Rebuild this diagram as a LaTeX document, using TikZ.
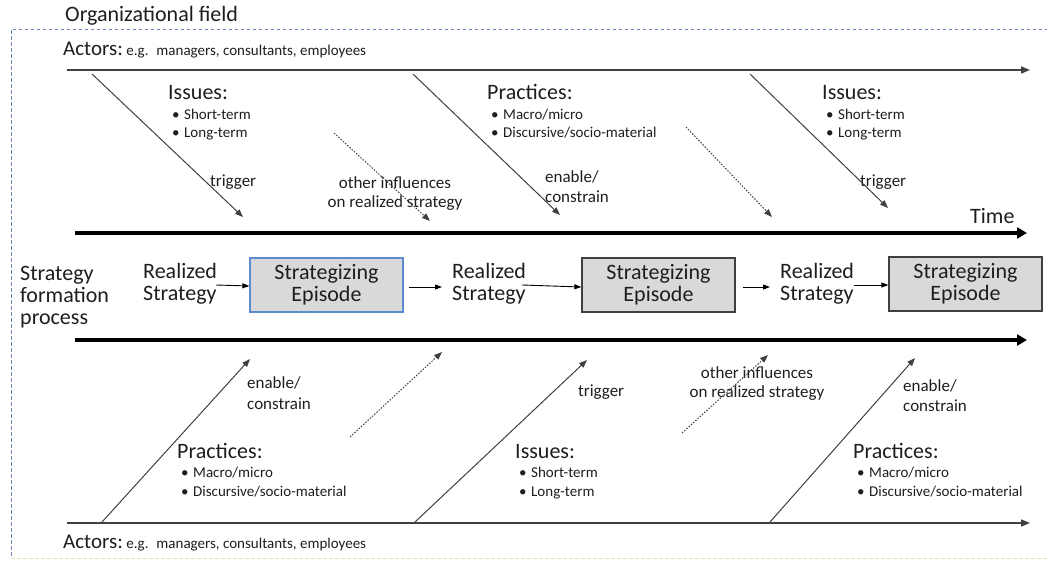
\documentclass[tikz,border=0pt]{standalone}
\usepackage{fontspec}
\setmainfont{Carlito}
\usetikzlibrary{arrows.meta}
\newcommand\szA{\fontsize{22}{22}\selectfont}
\newcommand\szB{\fontsize{17}{20}\selectfont}
\newcommand\szC{\fontsize{15}{18}\selectfont}
\newcommand\szD{\fontsize{21}{21}\selectfont}
\definecolor{frameblue}{RGB}{110,135,190}
\definecolor{frameyel}{RGB}{222,228,180}
\definecolor{linegray}{RGB}{64,64,64}
\definecolor{boxfill}{RGB}{217,217,217}
\definecolor{boxblue}{RGB}{91,140,210}
\definecolor{boxgray}{RGB}{64,64,64}
\definecolor{txt}{RGB}{30,30,30}
\begin{document}
\begin{tikzpicture}[x=1pt,y=-1pt,
  lbl/.style={inner sep=0pt, anchor=base west, text=txt},
  clbl/.style={inner sep=0pt, anchor=base, text=txt},
  blk/.style={inner sep=0pt, anchor=west, align=left, text=txt, font=\szA},
  episode/.style={draw=boxgray, line width=1.3pt, fill=boxfill, minimum width=153pt,
    minimum height=54pt, inner sep=0pt, align=center, font=\szA, text=txt},
  actorline/.style={draw=linegray, line width=1.6pt, -{Triangle[length=9pt,width=7pt]}},
  timeline/.style={draw=black, line width=4pt, -{Triangle[length=10pt,width=11pt]}},
  infl/.style={draw=linegray, line width=1pt, -{Triangle[length=8pt,width=6pt]}},
  otherinfl/.style={draw=linegray, line width=1pt, dash pattern=on 1.5pt off 1.5pt, -{Triangle[length=8pt,width=6pt]}},
  flow/.style={draw=black, line width=0.9pt, -{Triangle[length=7pt,width=5pt]}},
  framestyle/.style={draw=frameblue, line width=1pt, dash pattern=on 3.5pt off 2.5pt}
]
\useasboundingbox (0,0) rectangle (1047,560);

% organizational field frame
\draw[framestyle] (1060,29) -- (11,29) -- (11,558);
\draw[framestyle, draw=frameyel] (11,558) -- (1060,558);
\node[lbl, font=\szA] (org) at (65,21) {Organizational field};

% actors
\node[lbl] (acttop) at (63,55) {{\szD Actors:}{\szC\ e.g.~ managers, consultants, employees}};
\node[lbl] (actbot) at (63,548) {{\szD Actors:}{\szC\ e.g.~ managers, consultants, employees}};

% main lines
\coordinate (atS) at (67,70);  \coordinate (atE) at (1030,70);
\coordinate (tlS) at (75,233); \coordinate (tlE) at (1027,233);
\coordinate (blS) at (75,340); \coordinate (blE) at (1027,340);
\coordinate (abS) at (67,523); \coordinate (abE) at (1030,523);
\draw[actorline] (atS) -- (atE);
\draw[timeline] (tlS) -- (tlE);
\draw[timeline] (blS) -- (blE);
\draw[actorline] (abS) -- (abE);
\node[lbl, font=\szA] (time) at (970,223) {Time};

% top labels
\node[lbl, font=\szA] (iss1) at (168,99) {Issues:};
\node[lbl, font=\szC] (iss1a) at (172,119) {\makebox[12pt][l]{•}Short-term};
\node[lbl, font=\szC] (iss1b) at (172,137) {\makebox[12pt][l]{•}Long-term};
\node[lbl, font=\szA] (prac1) at (487,99) {Practices:};
\node[lbl, font=\szC] (prac1a) at (491,119) {\makebox[12pt][l]{•}Macro/micro};
\node[lbl, font=\szC] (prac1b) at (491,137) {\makebox[12pt][l]{•}Discursive/socio-material};
\node[lbl, font=\szA] (iss2) at (822,99) {Issues:};
\node[lbl, font=\szC] (iss2a) at (826,119) {\makebox[12pt][l]{•}Short-term};
\node[lbl, font=\szC] (iss2b) at (826,137) {\makebox[12pt][l]{•}Long-term};
\node[lbl, font=\szB] (trig1) at (210,186) {trigger};
\node[clbl, font=\szB] (oth1a) at (395,188) {other influences};
\node[clbl, font=\szB] (oth1b) at (395,207) {on realized strategy};
\node[lbl, font=\szB] (en1a) at (545,182) {enable/};
\node[lbl, font=\szB] (en1b) at (545,202) {constrain};
\node[lbl, font=\szB] (trig2) at (860,186) {trigger};

% top influence arrows
\coordinate (a1s) at (92,74);   \coordinate (a1e) at (243,217);
\coordinate (a2s) at (334,133); \coordinate (a2e) at (430,221);
\coordinate (a3s) at (413,74);  \coordinate (a3e) at (560,215);
\coordinate (a4s) at (686,127); \coordinate (a4e) at (772,217);
\coordinate (a5s) at (750,74);  \coordinate (a5e) at (888,208);
\draw[infl] (a1s) -- (a1e);
\draw[otherinfl] (a2s) -- (a2e);
\draw[infl] (a3s) -- (a3e);
\draw[otherinfl] (a4s) -- (a4e);
\draw[infl] (a5s) -- (a5e);

% strategy formation process row
\node[blk] (sfp) at (20,297) {Strategy\\formation\\process};
\node[blk] (rs1) at (143,284) {Realized\\Strategy};
\node[episode, draw=boxblue] (ep1) at (326.5,285) {Strategizing\\Episode};
\node[blk] (rs2) at (452,284) {Realized\\Strategy};
\node[episode] (ep2) at (658.5,285) {Strategizing\\Episode};
\node[blk] (rs3) at (780,284) {Realized\\Strategy};
\node[episode] (ep3) at (965.5,284) {Strategizing\\Episode};

\draw[flow] ([xshift=-1pt,yshift=-1pt]rs1.east) -- ([yshift=-1pt]ep1.west);
\draw[flow] ([xshift=5pt,yshift=-2pt]ep1.east) -- ([xshift=-10pt,yshift=-2pt]ep1.east -| rs2.west);
\draw[flow] ([xshift=-4pt,yshift=-1pt]rs2.east) -- ([yshift=-2pt]ep2.west);
\draw[flow] ([xshift=7pt,yshift=-2pt]ep2.east) -- ([xshift=-10pt,yshift=-2pt]ep2.east -| rs3.west);
\draw[flow] ([xshift=0pt,yshift=-1pt]rs3.east) -- ([yshift=-1pt]ep3.west);

% bottom labels
\node[lbl, font=\szB] (en2a) at (247,388) {enable/};
\node[lbl, font=\szB] (en2b) at (247,409) {constrain};
\node[clbl, font=\szB] (oth2a) at (757,378) {other influences};
\node[clbl, font=\szB] (oth2b) at (757,397) {on realized strategy};
\node[lbl, font=\szB] (trig3) at (578,396) {trigger};
\node[lbl, font=\szB] (en3a) at (903,391) {enable/};
\node[lbl, font=\szB] (en3b) at (903,411) {constrain};
\node[lbl, font=\szA] (prac2) at (177,458) {Practices:};
\node[lbl, font=\szC] (prac2a) at (181,477) {\makebox[12pt][l]{•}Macro/micro};
\node[lbl, font=\szC] (prac2b) at (181,496) {\makebox[12pt][l]{•}Discursive/socio-material};
\node[lbl, font=\szA] (iss3) at (515,458) {Issues:};
\node[lbl, font=\szC] (iss3a) at (519,477) {\makebox[12pt][l]{•}Short-term};
\node[lbl, font=\szC] (iss3b) at (519,496) {\makebox[12pt][l]{•}Long-term};
\node[lbl, font=\szA] (prac3) at (853,458) {Practices:};
\node[lbl, font=\szC] (prac3a) at (857,477) {\makebox[12pt][l]{•}Macro/micro};
\node[lbl, font=\szC] (prac3b) at (857,496) {\makebox[12pt][l]{•}Discursive/socio-material};

% bottom influence arrows
\coordinate (b1s) at (102,522); \coordinate (b1e) at (250,359);
\coordinate (b2s) at (350,437); \coordinate (b2e) at (442,352);
\coordinate (b3s) at (415,522); \coordinate (b3e) at (587,360);
\coordinate (b4s) at (682,433); \coordinate (b4e) at (768,355);
\coordinate (b5s) at (770,522); \coordinate (b5e) at (915,358);
\draw[infl] (b1s) -- (b1e);
\draw[otherinfl] (b2s) -- (b2e);
\draw[infl] (b3s) -- (b3e);
\draw[otherinfl] (b4s) -- (b4e);
\draw[infl] (b5s) -- (b5e);
\end{tikzpicture}
\end{document}
